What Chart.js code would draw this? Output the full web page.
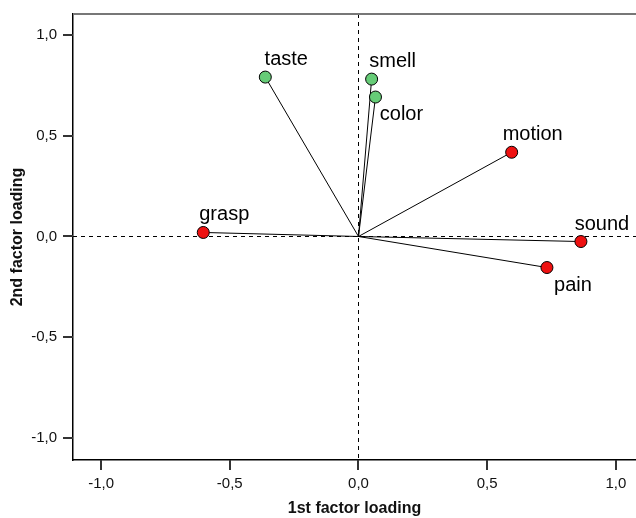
<!DOCTYPE html>
<html>
<head>
<meta charset="utf-8">
<script src="https://cdn.jsdelivr.net/npm/chart.js@4/dist/chart.umd.min.js"></script>
<style>
	html, body { margin: 0; padding: 0; background: #fff; }
	#wrap { width: 636px; height: 518px; }
</style>
</head>
<body>
<div id="wrap"><canvas id="loadingChart" width="636" height="518"></canvas></div>
<script>
var variables = ['taste', 'smell', 'color', 'motion', 'grasp', 'sound', 'pain'];
var factor1 = [-0.362, 0.051, 0.066, 0.595, -0.603, 0.864, 0.732];
var factor2 = [0.791, 0.781, 0.692, 0.418, 0.020, -0.025, -0.154];
var groups = ['green', 'green', 'green', 'red', 'red', 'red', 'red'];
var tickValues = [-1.0, -0.5, 0.0, 0.5, 1.0];

var groupColors = { green: '#66cc77', red: '#ee1111' };
// label placement: below the point for some, above for the rest
var labelBelow = { color: true, pain: true };

var font = 'Liberation Sans, Arial, sans-serif';

var datasets = [];
// a thin line from the origin to each loading
variables.forEach(function (name, i) {
	datasets.push({
		type: 'line',
		data: [{ x: 0, y: 0 }, { x: factor1[i], y: factor2[i] }],
		borderColor: '#000',
		borderWidth: 1,
		pointRadius: 0,
		fill: false,
		order: 2,
	});
});
datasets.push({
	label: 'loadings',
	data: variables.map(function (n, i) { return { x: factor1[i], y: factor2[i] }; }),
	backgroundColor: groups.map(function (g) { return groupColors[g]; }),
	borderColor: '#000',
	borderWidth: 1,
	pointRadius: 6,
	order: 1,
});

var fmt = function (v) {
	return v.toFixed(1).replace('.', ',').replace('-0,0', '0,0');
};

var refLines = {
	id: 'refLines',
	beforeDatasetsDraw: function (chart) {
		var ctx = chart.ctx, a = chart.chartArea;
		var x0 = chart.scales.x.getPixelForValue(0);
		var y0 = chart.scales.y.getPixelForValue(0);
		ctx.save();
		ctx.strokeStyle = '#000';
		ctx.lineWidth = 1;
		ctx.setLineDash([4, 4]);
		ctx.beginPath();
		ctx.moveTo(a.left, Math.round(y0) + 0.5);
		ctx.lineTo(a.right, Math.round(y0) + 0.5);
		ctx.moveTo(Math.round(x0) + 0.5, a.top);
		ctx.lineTo(Math.round(x0) + 0.5, a.bottom);
		ctx.stroke();
		ctx.setLineDash([]);
		// grey frame on top
		ctx.strokeStyle = '#777';
		ctx.lineWidth = 2;
		ctx.beginPath();
		ctx.moveTo(a.left, a.top);
		ctx.lineTo(a.right + 1, a.top);
		ctx.stroke();
		ctx.restore();
	},
	afterDatasetsDraw: function (chart) {
		var ctx = chart.ctx;
		var meta = chart.getDatasetMeta(chart.data.datasets.length - 1);
		ctx.save();
		ctx.font = '20px ' + font;
		ctx.fillStyle = '#000';
		ctx.textAlign = 'center';
		ctx.textBaseline = 'alphabetic';
		meta.data.forEach(function (pt, i) {
			var below = labelBelow[variables[i]];
			ctx.fillText(variables[i], pt.x + (below ? 26 : 21), pt.y + (below ? 23 : -12));
		});
		ctx.restore();
	},
	afterDraw: function (chart) {
		// outward tick marks
		var ctx = chart.ctx, a = chart.chartArea;
		var sx = chart.scales.x, sy = chart.scales.y;
		ctx.save();
		ctx.strokeStyle = '#333333';
		ctx.lineWidth = 2;
		ctx.beginPath();
		tickValues.forEach(function (v) {
			var px = Math.round(sx.getPixelForValue(v));
			ctx.moveTo(px, a.bottom);
			ctx.lineTo(px, a.bottom + 10);
			var py = Math.round(sy.getPixelForValue(v));
			ctx.moveTo(a.left, py);
			ctx.lineTo(a.left - 10, py);
		});
		ctx.stroke();
		ctx.restore();
	},
};

new Chart(document.getElementById('loadingChart'), {
	type: 'scatter',
	data: { datasets: datasets },
	plugins: [refLines],
	options: {
		responsive: false,
		animation: false,
		layout: {
			autoPadding: false,
			padding: { top: 14, right: 0, left: 0, bottom: 0 },
		},
		plugins: {
			legend: { display: false },
			tooltip: { enabled: false },
		},
		scales: {
			x: {
				type: 'linear',
				min: -1.109,
				max: 1.078,
				afterFit: function (s) {
					s.height = 58;
					s.paddingLeft = 0;
					s.paddingRight = 0;
				},
				afterBuildTicks: function (s) {
					s.ticks = tickValues.map(function (v) { return { value: v }; });
				},
				ticks: {
					includeBounds: false,
					callback: fmt,
					color: '#111',
					font: { family: font, size: 15 },
					padding: 5,
				},
				grid: { display: false, tickLength: 10 },
				border: { display: true, color: '#000', width: 1.5 },
				title: {
					display: true,
					text: '1st factor loading',
					color: '#111',
					font: { family: font, size: 16, weight: 'bold' },
					padding: { top: 4, bottom: 0 },
				},
			},
			y: {
				type: 'linear',
				min: -1.109,
				max: 1.104,
				afterFit: function (s) {
					s.width = 73;
					s.paddingTop = 0;
					s.paddingBottom = 0;
				},
				afterBuildTicks: function (s) {
					s.ticks = tickValues.map(function (v) { return { value: v }; });
				},
				ticks: {
					includeBounds: false,
					callback: fmt,
					color: '#111',
					font: { family: font, size: 15 },
					padding: 6,
				},
				grid: { display: false, tickLength: 10 },
				border: { display: true, color: '#000', width: 1.5 },
				title: {
					display: true,
					text: '2nd factor loading',
					color: '#111',
					font: { family: font, size: 16, weight: 'bold' },
					padding: { top: 8, bottom: 4 },
				},
			},
		},
	},
});
</script>
</body>
</html>
